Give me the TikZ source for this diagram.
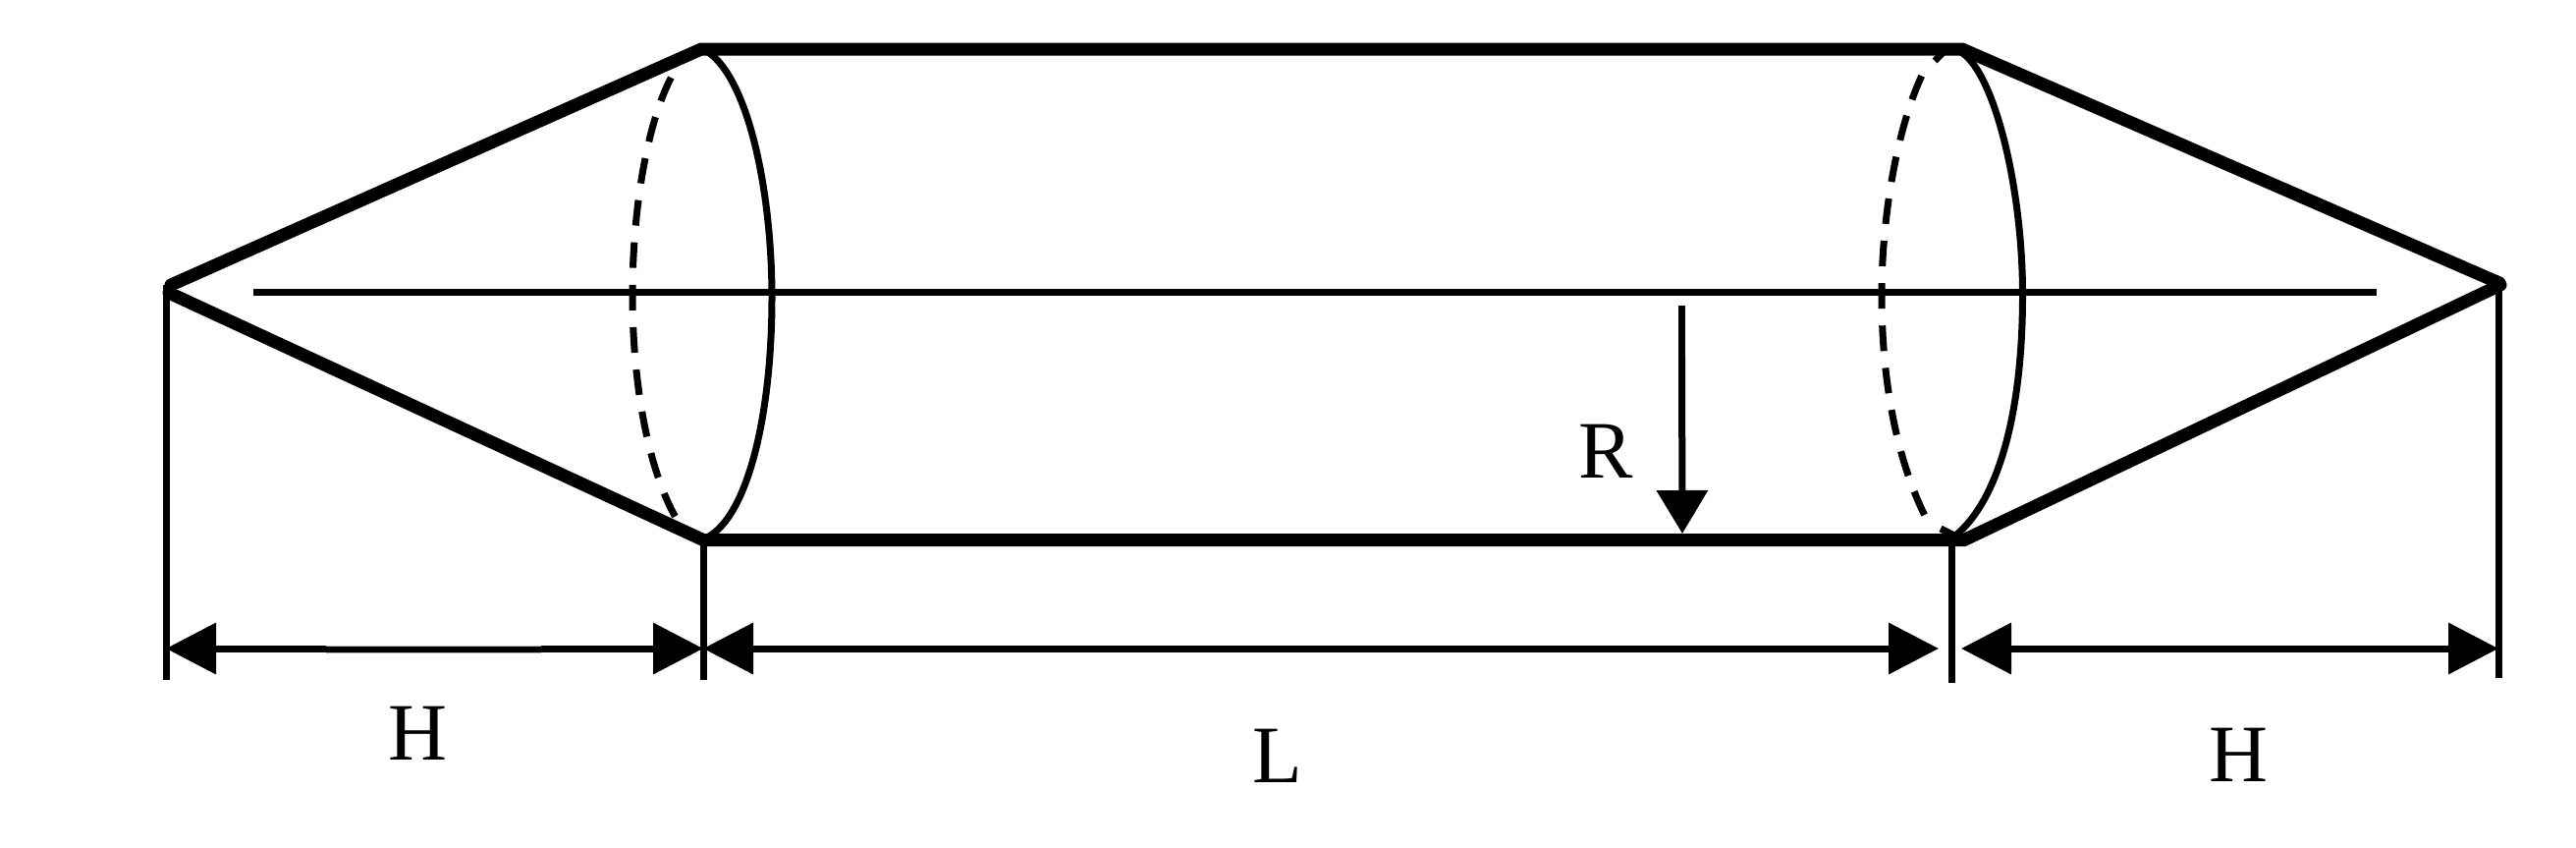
\documentclass[tikz,border=0pt]{standalone}
\usepackage{fontspec}
\setmainfont{Liberation Serif}
\usetikzlibrary{arrows.meta}
\tikzset{
  cone/.style={line width=6.5pt,line cap=round,line join=miter},
  thinline/.style={line width=3.5pt,line cap=butt},
  solidarc/.style={line width=3.5pt,line cap=butt},
  hiddenarc/.style={line width=3.5pt,line cap=butt,dash pattern=on 13pt off 8.6pt},
  hiddentick/.style={line width=3.5pt,line cap=butt},
  dimline/.style={line width=3.5pt,{Triangle[length=25.5pt,width=25.5pt,sep=0pt]}-{Triangle[length=25.5pt,width=25.5pt,sep=0pt]}},
  radiusline/.style={line width=3.5pt,-{Triangle[length=22pt,width=25.5pt,sep=0pt]}},
  label/.style={inner sep=0pt,outer sep=0pt,font=\fontsize{41.5}{50}\selectfont},
}
\begin{document}
\begin{tikzpicture}[x=0.5pt,y=-0.5pt]
\useasboundingbox (0,0) rectangle (2623,862);
\fill[white] (0,0) rectangle (2623,862);
% outline points
\coordinate (apexL) at (174,290);
\coordinate (apexLb) at (172,298);
\coordinate (tl) at (714,50);
\coordinate (tr) at (1998,50);
\coordinate (apexR) at (2545,288);
\coordinate (apexRb) at (2546,290);
\coordinate (br) at (2000,549.5);
\coordinate (bl) at (716,549.5);
% axis
\coordinate (axisL) at (258,297);
\coordinate (axisR) at (2420,297);
\draw[thinline] (axisL) -- (axisR);
% outline
\draw[cone] (apexL) -- (tl) -- (tr) -- (apexR);
\draw[cone] (apexRb) -- (br) -- (bl) -- (apexLb);
% left ring
\draw[solidarc] (716,50) .. controls (760,72) and (786,190) .. (786,303)
                         .. controls (786,420) and (762,525) .. (720,547);
\draw[hiddenarc] (683.3,79) .. controls (657,130) and (644,220) .. (644,300)
                            .. controls (644,390) and (660,480) .. (690,530);
% right ring
\draw[solidarc] (1995,52) .. controls (2030,70) and (2059.5,190) .. (2059.5,300)
                          .. controls (2059.5,420) and (2035,510) .. (1990,546);
\draw[hiddenarc] (1956.7,77.3) .. controls (1932,130) and (1916,220) .. (1916,300)
                               .. controls (1916,390) and (1932,470) .. (1961.7,528.3);
\coordinate (tickA) at (1970,62);
\coordinate (tickB) at (1978,54);
\coordinate (tickC) at (1976,538);
\coordinate (tickD) at (1990,545);
\draw[hiddentick] (tickA) -- (tickB);
\draw[hiddentick] (tickC) -- (tickD);
% extension lines
\coordinate (extLt) at (169,290);
\coordinate (extLb) at (169,692);
\coordinate (ext2t) at (716,552);
\coordinate (ext2b) at (716,692);
\coordinate (ext3t) at (1987.5,552);
\coordinate (ext3b) at (1987.5,695);
\coordinate (extRt) at (2544,290);
\coordinate (extRb) at (2544,690);
% dimension lines
\coordinate (d1) at (169,660);
\coordinate (d2) at (716,660);
\coordinate (d3) at (1974,660);
\coordinate (d4) at (1997,660);
\coordinate (d5) at (2544,660);
\draw[dimline] (d1) -- (d2);
\draw[dimline] (d2) -- (d3);
\draw[dimline] (d4) -- (d5);
\draw[thinline] (extLt) -- (extLb);
\draw[thinline] (ext2t) -- (ext2b);
\draw[thinline] (ext3t) -- (ext3b);
\draw[thinline] (extRt) -- (extRb);
% faded stretch of the left dimension line
\coordinate (fadeA) at (332,661);
\coordinate (fadeB) at (551,661);
\draw[line width=4.2pt,gray!60] (fadeA) -- (fadeB);
\draw[line width=2.6pt,black] (fadeA) -- (fadeB);
% radius arrow
\coordinate (radTop) at (1712.5,311);
\coordinate (radMid) at (1712.5,363);
\coordinate (radTip) at (1713,543);
\draw[radiusline] (radMid) -- (radTip);
\draw[thinline] (radTop) -- (radMid);
% labels
\node[label] (labelR) at (1635,459.5) {R};
\node[label] (labelH1) at (425,746) {H};
\node[label] (labelL) at (1301,769) {L};
\node[label] (labelH2) at (2279,768) {H};
\end{tikzpicture}
\end{document}
